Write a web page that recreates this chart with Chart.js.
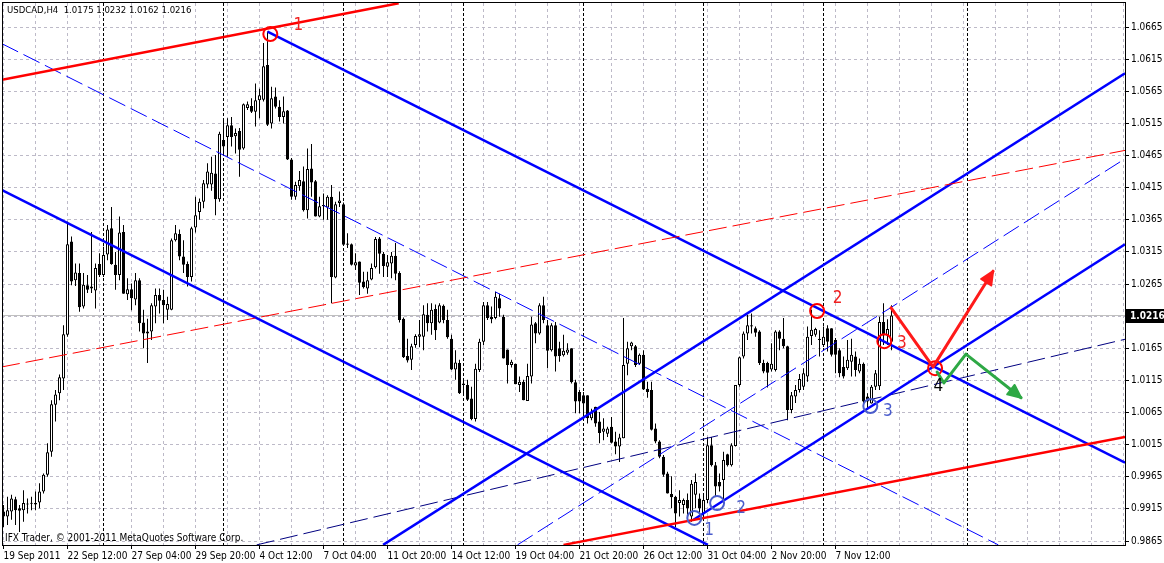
<!DOCTYPE html>
<html>
<head>
<meta charset="utf-8">
<title>USDCAD,H4</title>
<script src="https://cdn.jsdelivr.net/npm/chart.js@4.4.1/dist/chart.umd.min.js"></script>
<style>
  html, body { margin: 0; padding: 0; background: #fff; }
  #box { width: 1164px; height: 563px; }
</style>
</head>
<body>
<div id="box"><canvas id="chart" width="1164" height="563"></canvas></div>
<script>
// H4 bars, first visible bar = 19 Sep 2011 20:00
const opens = [
  0.9911,0.9903,0.9911,0.9930,0.9916,0.9913,0.9922,0.9923,0.9922,0.9925,
  0.9942,0.9968,1.0004,1.0077,1.0095,1.0118,1.0186,1.0331,1.0271,1.0282,
  1.0230,1.0263,1.0258,1.0255,1.0296,1.0279,1.0311,1.0352,1.0295,1.0279,
  1.0346,1.0249,1.0257,1.0241,1.0271,1.0205,1.0191,1.0191,1.0230,1.0248,
  1.0240,1.0225,1.0225,1.0333,1.0343,1.0308,1.0296,1.0276,1.0353,1.0377,
  1.0393,1.0420,1.0420,1.0437,1.0397,1.0489,1.0494,1.0512,1.0495,1.0503,
  1.0476,1.0539,1.0542,1.0533,1.0551,1.0552,1.0606,1.0515,1.0557,1.0541,
  1.0525,1.0535,1.0459,1.0401,1.0417,1.0425,1.0380,1.0445,1.0425,1.0370,
  1.0386,1.0384,1.0401,1.0275,1.0391,1.0389,1.0328,1.0327,1.0294,1.0300,
  1.0269,1.0258,1.0272,1.0291,1.0336,1.0312,1.0292,1.0297,1.0309,1.0282,
  1.0211,1.0153,1.0147,1.0170,1.0183,1.0183,1.0217,1.0204,1.0226,1.0205,
  1.0231,1.0209,1.0180,1.0132,1.0142,1.0110,1.0108,1.0087,1.0055,1.0131,
  1.0175,1.0232,1.0214,1.0212,1.0243,1.0214,1.0163,1.0139,1.0141,1.0108,
  1.0113,1.0083,1.0121,1.0204,1.0188,1.0232,1.0201,1.0162,1.0201,1.0165,
  1.0154,1.0158,1.0165,1.0112,1.0097,1.0092,1.0092,1.0056,1.0074,1.0051,
  1.0035,1.0032,1.0043,1.0020,1.0012,1.0025,1.0141,1.0168,1.0168,1.0141,
  1.0155,1.0102,1.0100,1.0040,1.0020,0.9996,0.9970,0.9938,0.9934,0.9924,
  0.9921,0.9929,0.9903,0.9937,0.9931,0.9908,0.9929,1.0014,0.9983,0.9957,
  0.9960,1.0000,0.9983,1.0013,1.0108,1.0152,1.0188,1.0201,1.0196,1.0191,
  1.0142,1.0142,1.0132,1.0131,1.0191,1.0180,1.0168,1.0069,1.0090,1.0100,
  1.0105,1.0121,1.0184,1.0186,1.0180,1.0170,1.0196,1.0196,1.0178,1.0162,
  1.0136,1.0134,1.0144,1.0152,1.0129,1.0141,1.0090,1.0079,1.0105,1.0106,
  1.0206,1.0185,1.0175
];
const highs = [
  0.9921,0.9934,0.9937,0.9934,0.9921,0.9944,0.9931,0.9934,0.9942,0.9955,
  0.9970,1.0017,1.0084,1.0100,1.0124,1.0201,1.0362,1.0339,1.0297,1.0297,
  1.0282,1.0279,1.0346,1.0297,1.0313,1.0323,1.0357,1.0385,1.0315,1.0370,
  1.0357,1.0274,1.0266,1.0282,1.0274,1.0225,1.0211,1.0235,1.0258,1.0258,
  1.0256,1.0245,1.0336,1.0357,1.0350,1.0333,1.0300,1.0354,1.0401,1.0398,
  1.0427,1.0453,1.0463,1.0466,1.0502,1.0523,1.0523,1.0525,1.0507,1.0508,
  1.0546,1.0549,1.0554,1.0577,1.0569,1.0640,1.0658,1.0572,1.0571,1.0551,
  1.0557,1.0536,1.0461,1.0424,1.0441,1.0448,1.0476,1.0483,1.0427,1.0401,
  1.0406,1.0403,1.0419,1.0393,1.0409,1.0392,1.0344,1.0328,1.0313,1.0300,
  1.0284,1.0284,1.0297,1.0338,1.0338,1.0315,1.0310,1.0315,1.0329,1.0285,
  1.0213,1.0180,1.0172,1.0187,1.0209,1.0232,1.0235,1.0235,1.0233,1.0235,
  1.0233,1.0225,1.0186,1.0162,1.0147,1.0118,1.0116,1.0105,1.0141,1.0180,
  1.0237,1.0237,1.0230,1.0253,1.0250,1.0217,1.0163,1.0147,1.0141,1.0121,
  1.0116,1.0141,1.0214,1.0206,1.0235,1.0245,1.0209,1.0204,1.0206,1.0175,
  1.0186,1.0173,1.0165,1.0116,1.0100,1.0097,1.0092,1.0071,1.0074,1.0066,
  1.0056,1.0043,1.0058,1.0035,1.0032,1.0212,1.0175,1.0175,1.0170,1.0157,
  1.0162,1.0113,1.0113,1.0048,1.0022,0.9999,0.9973,0.9966,0.9935,0.9944,
  0.9931,0.9939,0.9960,0.9970,0.9939,0.9937,1.0027,1.0027,0.9988,0.9970,
  1.0004,1.0001,1.0017,1.0108,1.0152,1.0191,1.0217,1.0219,1.0199,1.0193,
  1.0147,1.0144,1.0173,1.0193,1.0193,1.0212,1.0169,1.0097,1.0108,1.0125,
  1.0134,1.0199,1.0225,1.0197,1.0193,1.0199,1.0201,1.0196,1.0181,1.0165,
  1.0152,1.0178,1.0180,1.0160,1.0149,1.0143,1.0095,1.0108,1.0131,1.0214,
  1.0235,1.0210,1.0232
];
const lows = [
  0.9887,0.9890,0.9898,0.9890,0.9879,0.9895,0.9908,0.9913,0.9913,0.9916,
  0.9939,0.9965,0.9996,1.0051,1.0084,1.0100,1.0183,1.0263,1.0262,1.0222,
  1.0227,1.0251,1.0251,1.0227,1.0276,1.0276,1.0302,1.0295,1.0256,1.0271,
  1.0250,1.0240,1.0224,1.0232,1.0191,1.0165,1.0142,1.0178,1.0204,1.0219,
  1.0204,1.0209,1.0224,1.0331,1.0302,1.0282,1.0261,1.0269,1.0345,1.0365,
  1.0383,1.0414,1.0410,1.0372,1.0393,1.0466,1.0463,1.0479,1.0468,1.0432,
  1.0474,1.0536,1.0531,1.0510,1.0523,1.0549,1.0511,1.0507,1.0538,1.0518,
  1.0515,1.0458,1.0396,1.0396,1.0410,1.0378,1.0367,1.0401,1.0370,1.0369,
  1.0365,1.0365,1.0235,1.0274,1.0385,1.0326,1.0321,1.0294,1.0287,1.0248,
  1.0258,1.0250,1.0271,1.0289,1.0281,1.0276,1.0276,1.0274,1.0271,1.0205,
  1.0150,1.0143,1.0131,1.0166,1.0167,1.0162,1.0191,1.0186,1.0178,1.0204,
  1.0204,1.0180,1.0131,1.0116,1.0094,1.0092,1.0083,1.0053,1.0051,1.0128,
  1.0170,1.0209,1.0204,1.0210,1.0214,1.0149,1.0110,1.0135,1.0109,1.0097,
  1.0084,1.0083,1.0110,1.0173,1.0186,1.0204,1.0134,1.0160,1.0129,1.0144,
  1.0152,1.0155,1.0110,1.0064,1.0064,1.0064,1.0048,1.0053,1.0043,1.0017,
  1.0022,1.0027,1.0017,1.0000,0.9988,1.0025,1.0123,1.0162,1.0136,1.0139,
  1.0100,1.0088,1.0037,1.0017,0.9994,0.9965,0.9939,0.9916,0.9887,0.9903,
  0.9908,0.9903,0.9895,0.9916,0.9903,0.9898,0.9924,0.9981,0.9934,0.9942,
  0.9924,0.9981,0.9981,1.0012,1.0105,1.0149,1.0178,1.0188,1.0183,1.0139,
  1.0126,1.0104,1.0129,1.0129,1.0162,1.0165,1.0053,1.0064,1.0080,1.0096,
  1.0100,1.0113,1.0170,1.0183,1.0152,1.0167,1.0160,1.0152,1.0126,1.0120,
  1.0118,1.0131,1.0121,1.0121,1.0126,1.0079,1.0071,1.0079,1.0100,1.0100,
  1.0170,1.0170,1.0162
];
const closes = [
  0.9903,0.9913,0.9931,0.9913,0.9912,0.9924,0.9923,0.9924,0.9924,0.9942,
  0.9968,1.0003,1.0078,1.0093,1.0120,1.0187,1.0327,1.0269,1.0283,1.0229,
  1.0264,1.0256,1.0261,1.0290,1.0279,1.0310,1.0350,1.0296,1.0279,1.0345,
  1.0250,1.0257,1.0243,1.0271,1.0204,1.0188,1.0188,1.0232,1.0248,1.0239,
  1.0232,1.0234,1.0333,1.0344,1.0308,1.0295,1.0276,1.0352,1.0372,1.0393,
  1.0422,1.0440,1.0438,1.0397,1.0499,1.0479,1.0512,1.0494,1.0500,1.0474,
  1.0545,1.0545,1.0533,1.0551,1.0559,1.0604,1.0513,1.0554,1.0541,1.0525,
  1.0534,1.0459,1.0401,1.0419,1.0427,1.0380,1.0444,1.0423,1.0370,1.0386,
  1.0388,1.0401,1.0276,1.0389,1.0395,1.0326,1.0326,1.0295,1.0299,1.0267,
  1.0260,1.0271,1.0290,1.0335,1.0312,1.0293,1.0299,1.0309,1.0281,1.0209,
  1.0151,1.0146,1.0168,1.0184,1.0187,1.0218,1.0204,1.0225,1.0193,1.0232,
  1.0209,1.0182,1.0132,1.0143,1.0095,1.0108,1.0085,1.0055,1.0133,1.0175,
  1.0232,1.0212,1.0210,1.0245,1.0227,1.0149,1.0139,1.0144,1.0109,1.0113,
  1.0084,1.0122,1.0202,1.0188,1.0232,1.0209,1.0161,1.0201,1.0152,1.0153,
  1.0161,1.0163,1.0112,1.0082,1.0082,1.0079,1.0056,1.0066,1.0048,1.0033,
  1.0040,1.0040,1.0018,1.0012,1.0026,1.0139,1.0165,1.0174,1.0139,1.0155,
  1.0101,1.0097,1.0038,1.0020,0.9996,0.9968,0.9939,0.9933,0.9908,0.9929,
  0.9929,0.9916,0.9954,0.9957,0.9916,0.9929,1.0014,0.9983,0.9950,0.9950,
  0.9991,0.9983,1.0014,1.0108,1.0151,1.0188,1.0201,1.0199,1.0189,1.0142,
  1.0129,1.0127,1.0141,1.0191,1.0180,1.0168,1.0069,1.0092,1.0100,1.0117,
  1.0126,1.0183,1.0194,1.0195,1.0178,1.0183,1.0175,1.0155,1.0155,1.0126,
  1.0121,1.0147,1.0155,1.0131,1.0141,1.0082,1.0082,1.0105,1.0126,1.0206,
  1.0185,1.0195,1.0216
];

// axis labels
const timeLabels = ['19 Sep 2011','22 Sep 12:00','27 Sep 04:00','29 Sep 20:00','4 Oct 12:00','7 Oct 04:00',
  '11 Oct 20:00','14 Oct 12:00','19 Oct 04:00','21 Oct 20:00','26 Oct 12:00','31 Oct 04:00','2 Nov 20:00','7 Nov 12:00'];
const timeLabelBars = [0,16,32,48,64,80,96,112,128,144,160,176,192,208];
const priceTicks = [0.9865,0.9915,0.9965,1.0015,1.0065,1.0115,1.0165,1.0215,1.0265,1.0315,
  1.0365,1.0415,1.0465,1.0515,1.0565,1.0615,1.0665];
const weekStarts = [25,55,85,115,145,175,205,241];
const bidPrice = 1.0216;

// drawn objects: [bar, price] anchors
const redChannelTop = [[-0.375, 1.0583], [98.8, 1.0702]];
const redChannelMid = [[-0.375, 1.0136], [280.375, 1.0473]];
const redChannelLow = [[140, 0.9859], [280.375, 1.0027]];
const downChannelTop = [[66, 1.0658], [280.375, 0.9987]];
const downChannelMid = [[-0.375, 1.0639], [248.7, 0.9859]];
const downChannelLow = [[-0.375, 1.0411], [176.1, 0.9859]];
const upChannelTop = [[94.9, 0.9859], [280.375, 1.0593]];
const upChannelMid = [[128.5, 0.9859], [280.375, 1.0460]];
const upChannelLow = [[172.5, 0.9898], [280.375, 1.0327]];
const navyLine = [[63.3, 0.9859], [280.375, 1.0179]];
const redArrow = [[221.9, 1.0228], [232.4, 1.0136], [247.4, 1.0285]];
const greenArrow = [[233.4, 1.0128], [235.1, 1.0111], [240.6, 1.0156], [254.4, 1.0088]];
const redRings = [[66.7, 1.0654], [203.4, 1.0223], [220.2, 1.0176], [232.9, 1.0134]];
const blueRings = [[172.7, 0.9901], [178.4, 0.9924], [216.7, 1.0075]];
const redTags = [['1', 73.7, 1.0668], ['2', 208.5, 1.0242], ['3', 224.6, 1.0173]];
const blueTags = [['1', 176.4, 0.9882], ['2', 184.4, 0.9916], ['3', 221.1, 1.0066]];
const blackTags = [['4', 233.7, 1.0106]];

const UI_FONT = "'DejaVu Sans Condensed', 'DejaVu Sans', sans-serif";

const toXY = pts => pts.map(([b, p]) => ({ x: b, y: p }));

function trendLine(pts, color, width, dash) {
  return {
    type: 'line', data: toXY(pts), borderColor: color, borderWidth: width,
    borderDash: dash || [], pointRadius: 0, fill: false, tension: 0, clip: 0, order: 2
  };
}

function rings(pts, color) {
  return {
    type: 'scatter', data: toXY(pts), pointStyle: 'circle', pointRadius: 7,
    pointBorderWidth: 2, pointBorderColor: color, pointBackgroundColor: 'rgba(0,0,0,0)',
    showLine: false, clip: 0, order: 1
  };
}

const wickData = highs.map((h, i) => ({ x: i, y: [lows[i], h] }));
const bodyData = opens.map((o, i) => ({ x: i, y: [Math.min(o, closes[i]), Math.max(o, closes[i])] }));
const bodyFill = opens.map((o, i) => closes[i] > o ? '#ffffff' : '#000000');

function arrowHead(ctx, x0, y0, x1, y1, color) {
  const ang = Math.atan2(y1 - y0, x1 - x0);
  const len = 13, half = 6;
  ctx.save();
  ctx.fillStyle = color;
  ctx.strokeStyle = color;
  ctx.lineWidth = 2;
  ctx.lineJoin = 'round';
  ctx.beginPath();
  ctx.moveTo(x1, y1);
  ctx.lineTo(x1 - len * Math.cos(ang) + half * Math.sin(ang), y1 - len * Math.sin(ang) - half * Math.cos(ang));
  ctx.lineTo(x1 - len * Math.cos(ang) - half * Math.sin(ang), y1 - len * Math.sin(ang) + half * Math.cos(ang));
  ctx.closePath();
  ctx.fill();
  ctx.stroke();
  ctx.restore();
}

const terminalLook = {
  id: 'terminalLook',
  beforeDatasetsDraw(chart) {
    const { ctx, chartArea: a, scales: { x, y } } = chart;
    ctx.save();
    ctx.beginPath();
    ctx.rect(a.left, a.top, a.right - a.left, a.bottom - a.top);
    ctx.clip();
    ctx.lineWidth = 1;
    // dotted grid
    ctx.strokeStyle = '#bdbac8';
    ctx.setLineDash([3, 3]);
    ctx.beginPath();
    for (let b = 0; b <= x.max; b += 8) {
      const px = x.getPixelForValue(b);
      ctx.moveTo(px, a.top); ctx.lineTo(px, a.bottom);
    }
    priceTicks.forEach(v => {
      const py = Math.round(y.getPixelForValue(v) - 0.5) + 0.5;
      ctx.moveTo(a.left, py); ctx.lineTo(a.right, py);
    });
    ctx.stroke();
    // period separators
    ctx.strokeStyle = '#000';
    ctx.setLineDash([3, 2]);
    ctx.beginPath();
    weekStarts.forEach(b => {
      const px = x.getPixelForValue(b);
      ctx.moveTo(px, a.top); ctx.lineTo(px, a.bottom);
    });
    ctx.stroke();
    // bid line
    ctx.setLineDash([]);
    ctx.strokeStyle = '#c0c0c0';
    const by = Math.round(y.getPixelForValue(bidPrice) - 0.5) + 0.5;
    ctx.beginPath(); ctx.moveTo(a.left, by); ctx.lineTo(a.right, by); ctx.stroke();
    ctx.restore();
  },
  afterDatasetsDraw(chart) {
    const { ctx, chartArea: a, scales: { x, y } } = chart;
    ctx.save();
    ctx.beginPath();
    ctx.rect(a.left, a.top, a.right - a.left, a.bottom - a.top);
    ctx.clip();
    const px = p => [x.getPixelForValue(p[0]), y.getPixelForValue(p[1])];
    let [x0, y0] = px(redArrow[redArrow.length - 2]);
    let [x1, y1] = px(redArrow[redArrow.length - 1]);
    arrowHead(ctx, x0, y0, x1, y1, '#ff1a1a');
    [x0, y0] = px(greenArrow[greenArrow.length - 2]);
    [x1, y1] = px(greenArrow[greenArrow.length - 1]);
    arrowHead(ctx, x0, y0, x1, y1, '#2ea845');

    ctx.font = '17px ' + UI_FONT;
    ctx.textAlign = 'center';
    ctx.textBaseline = 'middle';
    const tag = (list, color) => list.forEach(([t, b, p]) => {
      ctx.fillStyle = color;
      ctx.fillText(t, x.getPixelForValue(b), y.getPixelForValue(p));
    });
    tag(redTags, '#f02020');
    tag(blueTags, '#4a5ccc');
    tag(blackTags, '#000000');
    ctx.restore();
  },
  afterDraw(chart) {
    const { ctx, chartArea: a, scales: { x, y } } = chart;
    ctx.save();
    ctx.strokeStyle = '#000';
    ctx.lineWidth = 1;
    ctx.strokeRect(a.left + 0.5, a.top - 0.5, a.right - a.left, a.bottom - a.top + 1);
    // tick marks
    ctx.beginPath();
    priceTicks.forEach(v => {
      const py = Math.round(y.getPixelForValue(v) - 0.5) + 0.5;
      ctx.moveTo(a.right, py); ctx.lineTo(a.right + 4, py);
    });
    timeLabelBars.forEach(b => {
      const tx = x.getPixelForValue(b);
      ctx.moveTo(tx, a.bottom); ctx.lineTo(tx, a.bottom + 4);
    });
    ctx.stroke();
    // bid price box
    const by = Math.round(y.getPixelForValue(bidPrice));
    ctx.fillStyle = '#000';
    ctx.fillRect(a.right + 1, by - 7, 38, 14);
    ctx.fillStyle = '#fff';
    ctx.font = 'bold 10px ' + UI_FONT;
    ctx.textAlign = 'left';
    ctx.textBaseline = 'middle';
    ctx.fillText(bidPrice.toFixed(4), a.right + 5, by + 0.5);
    // captions
    ctx.fillStyle = '#000';
    ctx.font = '9.5px ' + UI_FONT;
    ctx.fillText('USDCAD,H4  1.0175 1.0232 1.0162 1.0216', a.left + 5, 11);
    ctx.font = '10px ' + UI_FONT;
    ctx.fillText('IFX Trader, \u00a9 2001-2011 MetaQuotes Software Corp.', a.left + 3, 538);
    ctx.restore();
  }
};

new Chart(document.getElementById('chart'), {
  type: 'bar',
  data: {
    datasets: [
      { type: 'bar', data: wickData, backgroundColor: '#000', borderWidth: 0, barThickness: 1,
        grouped: false, inflateAmount: 0, order: 6 },
      { type: 'bar', data: bodyData, backgroundColor: bodyFill, borderColor: '#000', borderWidth: 1,
        borderSkipped: false, barThickness: 3, minBarLength: 1, grouped: false, inflateAmount: 0, order: 5 },
      trendLine(redChannelTop, '#ff0000', 2.5),
      trendLine(redChannelMid, '#ff0000', 1, [18, 6]),
      trendLine(redChannelLow, '#ff0000', 2.5),
      trendLine(downChannelTop, '#0000ff', 2.5),
      trendLine(downChannelMid, '#0000ff', 1, [18, 6]),
      trendLine(downChannelLow, '#0000ff', 2.5),
      trendLine(upChannelTop, '#0000ff', 2.5),
      trendLine(upChannelMid, '#0000ff', 1, [18, 6]),
      trendLine(upChannelLow, '#0000ff', 2.5),
      trendLine(navyLine, '#000080', 1, [18, 6]),
      Object.assign(trendLine(redArrow, '#ff1a1a', 3), { borderCapStyle: 'round', borderJoinStyle: 'round', order: 1 }),
      Object.assign(trendLine(greenArrow, '#2ea845', 3), { borderCapStyle: 'round', borderJoinStyle: 'round', order: 1 }),
      rings(redRings, '#ff0000'),
      rings(blueRings, '#4a5ccc')
    ]
  },
  options: {
    responsive: false,
    animation: false,
    devicePixelRatio: 1,
    events: [],
    layout: { autoPadding: false, padding: { left: 2, top: 3, right: 0, bottom: 0 } },
    plugins: { legend: { display: false }, tooltip: { enabled: false } },
    scales: {
      x: {
        type: 'linear', offset: false, min: -0.375, max: 280.375,
        grid: { display: false, drawTicks: true, tickLength: 4 },
        border: { display: false },
        afterBuildTicks: s => { s.ticks = timeLabelBars.map(v => ({ value: v })); },
        afterFit: s => { s.height = 18; s.paddingLeft = 0; s.paddingRight = 0; },
        ticks: {
          autoSkip: false, maxRotation: 0, align: 'start', labelOffset: 0, padding: 1,
          color: '#000', font: { family: UI_FONT, size: 10 },
          callback: (v, i) => timeLabels[i]
        }
      },
      y: {
        type: 'linear', position: 'right', min: 0.98588, max: 1.07024,
        grid: { display: false, drawTicks: true, tickLength: 4 },
        border: { display: false },
        afterBuildTicks: s => { s.ticks = priceTicks.map(v => ({ value: v })); },
        afterFit: s => { s.width = 39; s.paddingTop = 0; s.paddingBottom = 0; },
        ticks: {
          padding: 2, color: '#000', font: { family: UI_FONT, size: 10 },
          callback: v => Math.abs(v - 1.0215) < 1e-6 ? '' : v.toFixed(4)
        }
      }
    }
  },
  plugins: [terminalLook]
});
</script>
</body>
</html>
